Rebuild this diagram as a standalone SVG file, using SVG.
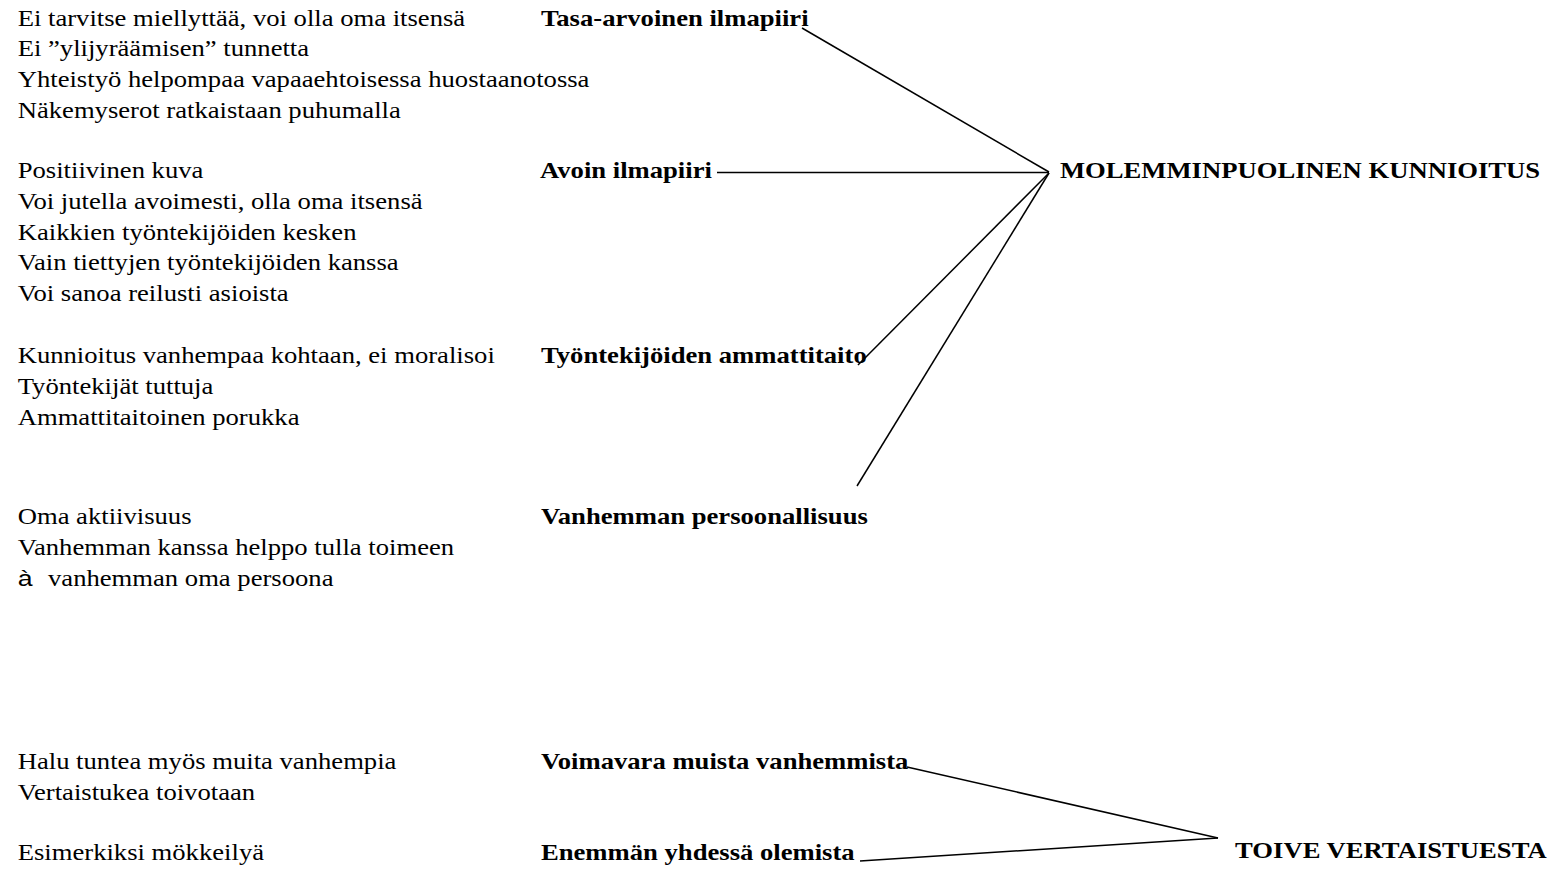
<svg xmlns="http://www.w3.org/2000/svg" width="1551" height="870" viewBox="0 0 1551 870">
<style>
  text { font-family: "Liberation Serif", "Times New Roman", serif; font-size: 22.2px; fill: #000; }
  .b { font-weight: bold; }
  .sans { font-family: "Liberation Sans", Arial, sans-serif; }
  .conn line { stroke: #000; stroke-width: 1.5; }
</style>
<rect width="1551" height="870" fill="#fff"/>
<g id="notes-tasa" transform="scale(1.2 1)">
  <text x="14.75" y="25.7">Ei tarvitse miellyttää, voi olla oma itsensä</text>
  <text x="14.75" y="56.5">Ei ”ylijyräämisen” tunnetta</text>
  <text x="14.75" y="87.3">Yhteistyö helpompaa vapaaehtoisessa huostaanotossa</text>
  <text x="14.75" y="118.1">Näkemyserot ratkaistaan puhumalla</text>
</g>
<g id="node-tasa" transform="scale(1.2 1)">
  <text class="b" x="450.8" y="25.7">Tasa-arvoinen ilmapiiri</text>
</g>
<g id="notes-avoin" transform="scale(1.2 1)">
  <text x="14.75" y="178">Positiivinen kuva</text>
  <text x="14.75" y="208.8">Voi jutella avoimesti, olla oma itsensä</text>
  <text x="14.75" y="239.6">Kaikkien työntekijöiden kesken</text>
  <text x="14.75" y="270.4">Vain tiettyjen työntekijöiden kanssa</text>
  <text x="14.75" y="301.2">Voi sanoa reilusti asioista</text>
</g>
<g id="node-avoin" transform="scale(1.2 1)">
  <text class="b" x="450" y="178">Avoin ilmapiiri</text>
</g>
<g id="notes-ammatti" transform="scale(1.2 1)">
  <text x="14.75" y="363">Kunnioitus vanhempaa kohtaan, ei moralisoi</text>
  <text x="14.75" y="393.8">Työntekijät tuttuja</text>
  <text x="14.75" y="424.6">Ammattitaitoinen porukka</text>
</g>
<g id="node-ammatti" transform="scale(1.2 1)">
  <text class="b" x="450.8" y="363">Työntekijöiden ammattitaito</text>
</g>
<g id="notes-persoona" transform="scale(1.2 1)">
  <text x="14.75" y="524.5">Oma aktiivisuus</text>
  <text x="14.75" y="555.3">Vanhemman kanssa helppo tulla toimeen</text>
  <text x="14.75" y="586"><tspan class="sans">à</tspan><tspan x="40">vanhemman oma persoona</tspan></text>
</g>
<g id="node-persoona" transform="scale(1.2 1)">
  <text class="b" x="450.8" y="524.5">Vanhemman persoonallisuus</text>
</g>
<g id="node-kunnioitus" transform="scale(1.2 1)">
  <text class="b" x="883.3" y="178">MOLEMMINPUOLINEN KUNNIOITUS</text>
</g>
<g id="notes-voimavara" transform="scale(1.2 1)">
  <text x="14.75" y="769">Halu tuntea myös muita vanhempia</text>
  <text x="14.75" y="799.8">Vertaistukea toivotaan</text>
</g>
<g id="node-voimavara" transform="scale(1.2 1)">
  <text class="b" x="450.8" y="769">Voimavara muista vanhemmista</text>
</g>
<g id="notes-yhdessa" transform="scale(1.2 1)">
  <text x="14.75" y="860">Esimerkiksi mökkeilyä</text>
</g>
<g id="node-yhdessa" transform="scale(1.2 1)">
  <text class="b" x="450.8" y="860">Enemmän yhdessä olemista</text>
</g>
<g id="node-vertaistuki" transform="scale(1.2 1)">
  <text class="b" x="1029.2" y="858">TOIVE VERTAISTUESTA</text>
</g>
<g id="connectors" class="conn">
  <line x1="802" y1="28" x2="1049" y2="172"/>
  <line x1="717" y1="172.5" x2="1049" y2="172.5"/>
  <line x1="858" y1="365" x2="1049" y2="173"/>
  <line x1="857" y1="486" x2="1049" y2="173"/>
  <line x1="907" y1="767" x2="1218" y2="838"/>
  <line x1="860" y1="861" x2="1218" y2="838"/>
</g>
</svg>
